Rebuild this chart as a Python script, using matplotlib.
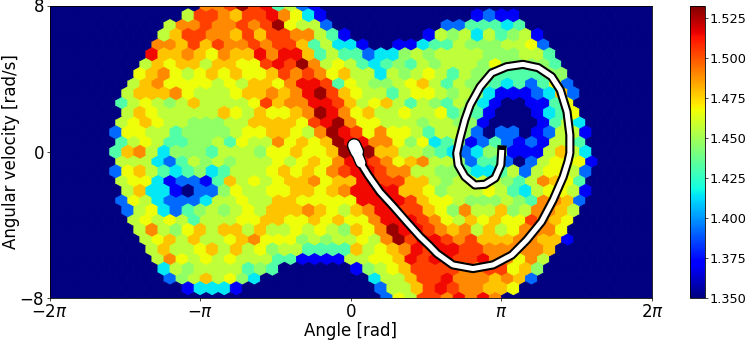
import numpy as np
import matplotlib
matplotlib.use('Agg')
import matplotlib.pyplot as plt

# colour levels
N, B, A, C, T, G, L = 1.350, 1.370, 1.392, 1.415, 1.432, 1.446, 1.456
Y, D, O, R, E, K = 1.467, 1.478, 1.490, 1.504, 1.515, 1.528

VMIN, VMAX = 1.350, 1.533
cbar_ticks = [1.350, 1.375, 1.400, 1.425, 1.450, 1.475, 1.500, 1.525]

# hex rows from the top, first_col = column of each row's first listed cell
first_col = [13, 11, 10, 9, 9, 8, 8, 7, 7, 6, 6, 6, 6, 5, 6, 5,
             6, 5, 6, 6, 6, 6, 7, 7, 8, 8, 9, 9, 10, 11, 28]
row_00 = [O, O, R, K, R, E, T, L, A, B]
row_01 = [L, R, R, O, D, R, R, E, O, Y, C, B, N, N, N, N, N, N, N, N, N, N, N, N, B, A, B, B]
row_02 = [L, O, O, R, O, O, R, O, R, K, Y, L, L, A, N, N, N, N, N, N, N, N, N, A, A, T, T, T, C, T]
row_03 = [L, D, R, R, O, O, D, R, D, R, R, O, O, L, T, B, N, N, N, N, N, N, B, L, G, L, C, L, T, G, L, B]
row_04 = [O, O, D, R, D, R, O, O, R, O, R, R, D, T, L, C, C, B, N, N, B, B, C, T, T, L, G, G, G, L, L, Y, A]
row_05 = [E, D, D, O, D, Y, O, D, D, E, O, E, E, D, T, L, T, T, A, C, C, G, L, G, L, L, L, L, G, G, G, L, L, T]
row_06 = [L, D, Y, D, D, L, D, D, Y, Y, R, E, R, K, O, L, Y, L, T, C, T, G, T, L, G, L, L, L, G, Y, G, G, G, G, T]
row_07 = [Y, D, O, Y, L, Y, D, Y, D, Y, Y, D, R, O, R, O, Y, D, L, L, C, L, G, L, Y, L, T, L, G, G, T, T, T, T, G, G]
row_08 = [L, D, O, Y, Y, Y, Y, L, Y, L, D, D, Y, O, E, E, R, T, Y, L, G, G, L, Y, D, L, T, L, G, G, T, C, T, A, T, Y, A]
row_09 = [L, D, D, D, O, Y, L, L, L, Y, D, D, O, D, O, E, K, R, D, Y, L, L, T, L, Y, Y, L, G, L, G, C, B, B, B, A, C, D, A]
row_10 = [T, L, Y, L, G, L, D, L, L, L, L, Y, R, D, O, O, E, E, R, D, L, Y, D, L, T, L, G, T, L, G, C, B, N, N, B, B, T, Y]
row_11 = [L, D, Y, L, L, L, L, L, D, Y, L, D, Y, Y, D, O, K, E, O, Y, D, L, L, Y, L, L, Y, T, G, T, B, N, N, N, B, C, T, Y]
row_12 = [L, Y, D, Y, L, L, G, G, G, L, L, D, D, D, D, Y, R, E, K, O, Y, Y, L, L, L, G, L, L, G, G, B, N, N, N, N, B, T, L, C]
row_13 = [A, Y, Y, L, L, T, G, G, G, G, L, Y, Y, D, D, Y, L, O, K, E, R, Y, O, Y, Y, L, T, L, L, G, A, N, A, A, N, B, A, L, L, B]
row_14 = [T, L, Y, L, T, T, G, G, L, T, Y, L, L, O, Y, D, Y, D, K, E, E, O, O, Y, G, Y, C, T, G, B, A, T, A, B, A, B, L, L, T]
row_15 = [T, D, O, L, C, G, G, G, T, L, L, L, G, Y, Y, D, Y, Y, D, K, E, K, D, D, L, L, G, T, C, A, C, G, G, B, B, B, L, D, L, C]
row_16 = [L, L, L, C, A, T, L, G, L, G, L, L, L, Y, L, Y, D, Y, O, E, E, R, O, Y, D, O, L, L, G, A, T, T, A, N, A, L, Y, Y, Y, B]
row_17 = [A, Y, D, L, T, C, T, G, C, T, L, L, L, Y, D, Y, D, Y, O, R, E, E, R, O, O, L, L, G, G, T, C, C, T, L, A, L, Y, Y, L, A]
row_18 = [L, Y, Y, C, B, A, A, B, T, D, L, Y, L, Y, D, D, O, Y, D, D, E, R, R, R, D, D, L, G, L, L, L, L, G, T, L, O, D, Y, T]
row_19 = [L, D, C, C, B, N, A, A, G, Y, L, L, Y, Y, D, D, Y, D, O, E, E, E, E, D, D, Y, G, L, L, L, Y, L, T, C, L, Y, Y, L, B]
row_20 = [A, Y, L, C, A, A, A, C, L, L, Y, L, L, D, D, Y, Y, Y, Y, Y, E, E, E, E, R, D, Y, Y, L, G, G, G, L, G, T, O, O, D, A]
row_21 = [A, L, Y, C, A, T, G, L, G, L, Y, L, D, D, D, O, D, Y, L, D, O, E, E, R, R, D, Y, G, O, L, L, D, G, L, O, O, D, L]
row_22 = [L, Y, L, Y, L, T, L, L, L, Y, Y, D, D, Y, Y, D, Y, D, Y, Y, O, E, E, E, R, O, Y, L, D, Y, D, Y, Y, R, O, D, Y]
row_23 = [L, O, L, G, Y, D, L, D, D, L, D, L, L, Y, L, Y, L, G, D, Y, O, K, E, E, R, O, D, O, L, D, L, Y, O, O, O, Y]
row_24 = [L, Y, D, L, D, L, L, Y, D, O, Y, Y, Y, G, L, G, L, L, Y, L, O, K, R, E, E, R, O, R, D, D, D, O, O, D, D, B]
row_25 = [L, D, L, L, Y, D, L, D, L, Y, G, L, L, T, T, T, T, D, L, Y, D, O, E, R, E, E, R, R, O, O, O, O, O, D]
row_26 = [L, O, Y, L, Y, L, Y, L, L, L, T, T, B, B, B, B, L, L, Y, Y, D, E, R, E, E, R, R, E, O, O, Y, O, L]
row_27 = [C, L, G, L, L, L, L, T, G, T, N, N, N, N, N, N, B, G, L, Y, D, R, R, R, R, O, O, R, R, Y, D, G]
row_28 = [A, G, L, D, L, Y, G, C, N, N, N, N, N, N, N, N, N, C, L, L, D, R, R, E, O, O, O, D, O, D, A]
row_29 = [B, C, C, C, B, N, N, N, N, N, N, N, N, N, N, N, A, L, L, D, R, E, R, O, O, D, D, Y]
row_30 = [A, Y, L, R, R, O, E, O, E, O]
rows = [row_00, row_01, row_02, row_03, row_04, row_05, row_06, row_07, row_08, row_09,
        row_10, row_11, row_12, row_13, row_14, row_15, row_16, row_17, row_18, row_19,
        row_20, row_21, row_22, row_23, row_24, row_25, row_26, row_27, row_28, row_29, row_30]

# trajectory
traj_angle = [0.13, 0.22, 0.36, 0.61, 0.88, 1.17, 1.45, 1.65, 1.80, 2.13, 2.55, 2.97, 3.36, 3.67,
              3.98, 4.22, 4.43, 4.53, 4.57, 4.57, 4.51, 4.37, 4.19, 3.91, 3.59, 3.25, 2.94, 2.70,
              2.49, 2.38, 2.28, 2.21, 2.24, 2.38, 2.59, 2.80, 3.01, 3.13, 3.15]
traj_vel = [-0.18, -0.67, -1.27, -2.20, -2.97, -3.84, -4.66, -5.16, -5.57, -6.19, -6.39, -6.19, -5.65, -4.83,
            -3.83, -2.64, -1.38, -0.54, -0.07, 0.92, 2.19, 3.38, 4.11, 4.60, 4.78, 4.65, 4.31, 3.56,
            2.56, 1.74, 0.75, -0.08, -0.72, -1.36, -1.82, -1.78, -1.44, -0.72, 0.10]
# thick blob at the start of the trajectory
blob_angle = [0.07, 0.13]
blob_vel = [0.35, 0.00]
neck_angle = [0.13, 0.21]
neck_vel = [-0.10, -0.60]

NX, NY = 50, 15
XMIN, XMAX, YMIN, YMAX = -2 * np.pi, 2 * np.pi, -8, 8
sx = (XMAX - XMIN) / NX
sy = (YMAX - YMIN) / NY

# every hexbin cell gets a value, the ones not listed stay at the lowest level
xs, ys, cs = [], [], []
for r in range(len(rows)):
    ncols = NX + 1 if r % 2 == 0 else NX
    for i in range(ncols):
        j = i - first_col[r]
        xs.append(XMIN + (i if r % 2 == 0 else i + 0.5) * sx)
        ys.append(YMAX - r * sy / 2)
        cs.append(rows[r][j] if 0 <= j < len(rows[r]) else N)

W, H = 747, 340
fig = plt.figure(figsize=(W / 100, H / 100), dpi=100)
ax = fig.add_axes([49.5 / W, 1 - 298 / H, 602.5 / W, 292.5 / H])
hb = ax.hexbin(xs, ys, C=cs, gridsize=(NX, NY), extent=(XMIN, XMAX, YMIN, YMAX),
               cmap='jet', vmin=VMIN, vmax=VMAX, linewidths=0.6, edgecolors='face')

ax.plot(blob_angle, blob_vel, color='k', lw=10.5, solid_capstyle='round', zorder=3)
ax.plot(neck_angle, neck_vel, color='k', lw=8.5, solid_capstyle='round', zorder=3)
ax.plot(traj_angle, traj_vel, color='k', lw=6.6, solid_capstyle='projecting', solid_joinstyle='round', zorder=3)
ax.plot(blob_angle, blob_vel, color='w', lw=8.5, solid_capstyle='round', zorder=4)
ax.plot(neck_angle, neck_vel, color='w', lw=6.5, solid_capstyle='round', zorder=4)
ax.plot(traj_angle, traj_vel, color='w', lw=3.6, solid_capstyle='butt', solid_joinstyle='round', zorder=4)

ax.set_xlim(XMIN, XMAX)
ax.set_ylim(YMIN, YMAX)
ax.set_xticks([-2 * np.pi, -np.pi, 0, np.pi, 2 * np.pi])
ax.set_xticklabels([r'$-2\pi$', r'$-\pi$', r'$0$', r'$\pi$', r'$2\pi$'])
ax.set_yticks([-8, 0, 8])
ax.set_yticklabels([r'$-8$', r'$0$', r'$8$'])
ax.tick_params(labelsize=12, length=2, width=0.5, pad=1.5)
ax.set_xlabel('Angle [rad]', fontsize=12, labelpad=0.5)
ax.set_ylabel('Angular velocity [rad/s]', fontsize=12, labelpad=-0.5)
for s in ax.spines.values():
    s.set_linewidth(0.6)

cax = fig.add_axes([690 / W, 1 - 298 / H, 14.5 / W, 292.5 / H])
cbar = fig.colorbar(hb, cax=cax, ticks=cbar_ticks, format='%.3f')
cbar.ax.tick_params(labelsize=9.3, length=2, width=0.5, pad=2)
cbar.outline.set_linewidth(0.6)

fig.savefig('out.png', dpi=100)
